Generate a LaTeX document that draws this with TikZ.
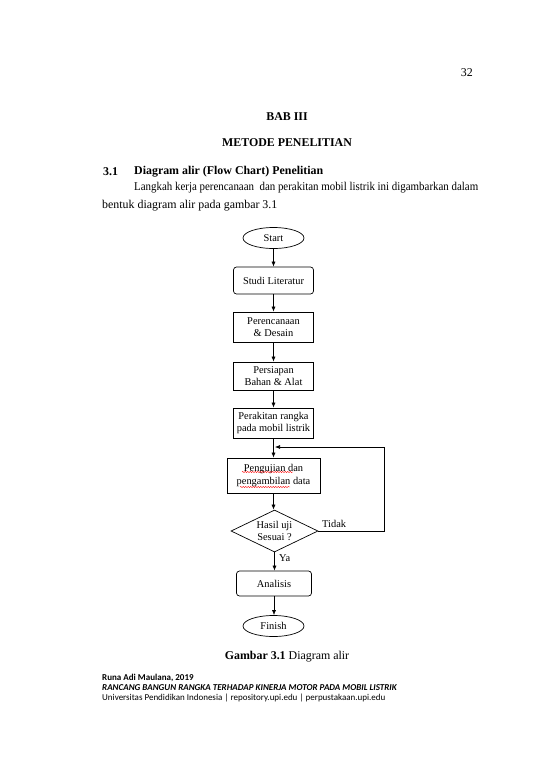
\documentclass[tikz,border=0pt]{standalone}
\usepackage{fontspec}
\usepackage{graphicx}
\setmainfont{Liberation Serif}
\newfontfamily\footfont{Carlito}
\usetikzlibrary{shapes.geometric,arrows.meta,decorations.pathmorphing}
\begin{document}
\begin{tikzpicture}[x=1pt,y=-1pt,
  box/.style={draw,line width=0.7pt,minimum width=80,inner sep=1pt,align=center,font=\fontsize{10.4}{12.6}\selectfont},
  rbox/.style={box,rounded corners=3pt},
  oval/.style={draw,line width=0.7pt,ellipse,minimum width=61,minimum height=21,inner sep=0pt,font=\fontsize{10.4}{12.6}\selectfont},
  arr/.style={-{Latex[length=5pt,width=4pt]},line width=0.6pt},
  body/.style={inner sep=0pt,font=\fontsize{11.9}{14}\selectfont},
  bbody/.style={inner sep=0pt,font=\bfseries\fontsize{11.9}{14}\selectfont},
  foot/.style={inner sep=0pt,anchor=west,font=\footfont\fontsize{9}{11}\selectfont},
  lbl/.style={inner sep=0pt,font=\fontsize{10.4}{12.6}\selectfont}]
\useasboundingbox (0,0) rectangle (550,777);
% page text
\node[body,anchor=east] (pg) at (473,73) {32};
\node[bbody] (bab) at (287,117) {BAB III};
\node[bbody] (met) at (287,143) {METODE PENELITIAN};
\node[bbody,anchor=west] (sec) at (103,172) {3.1};
\node[bbody,anchor=west] (sect) at (134,172) {Diagram alir (Flow Chart) Penelitian};
\node[body,anchor=west] (p1) at (134,188) {\resizebox{344pt}{\height}{Langkah kerja perencanaan \ dan perakitan mobil listrik ini digambarkan dalam}};
\node[body,anchor=west] (p2) at (102,206) {bentuk diagram alir pada gambar 3.1};
% flowchart
\node[oval] (start) at (273.5,238) {Start};
\node[rbox,minimum height=27] (studi) at (273.5,280.5) {Studi Literatur};
\node[box,minimum height=30] (peren) at (273.5,327) {Perencanaan\\ \& Desain};
\node[box,minimum height=28] (persi) at (273.5,376) {Persiapan\\ Bahan \& Alat};
\node[box,minimum height=30] (perak) at (273.5,423) {Perakitan rangka\\ pada mobil listrik};
\node[box,minimum width=93,minimum height=35] (uji) at (273.5,475.5) {Pengujian dan\\ pengambilan data};
\node[draw,line width=0.7pt,diamond,minimum width=87,minimum height=42,inner sep=0pt] (dec) at (274.5,531) {};
\node[lbl,align=center] (dect) at (274.5,531) {Hasil uji\\ Sesuai ?};
\node[rbox,minimum width=75,minimum height=25] (ana) at (274,583.5) {Analisis};
\node[oval] (fin) at (273.5,626) {Finish};
% spell-check squiggles
\draw[red,line width=0.35pt,decorate,decoration={snake,amplitude=0.6pt,segment length=2.5pt}] (242,472) -- (293,472);
\draw[red,line width=0.35pt,decorate,decoration={snake,amplitude=0.6pt,segment length=2.5pt}] (240,487) -- (290,487);
% connectors
\draw[arr] (start.south) -- (start.south |- studi.north);
\draw[arr] (studi.south) -- (studi.south |- peren.north);
\draw[arr] (peren.south) -- (peren.south |- persi.north);
\draw[arr] (persi.south) -- (persi.south |- perak.north);
\draw[arr] (perak.south) -- (perak.south |- uji.north);
\draw[arr] (uji.south) -- (uji.south |- dec.north);
\draw[arr] (dec.south) -- (dec.south |- ana.north);
\draw[arr] (ana.south) -- (ana.south |- fin.north);
\coordinate (fbin) at (275,447);
\coordinate (fbr) at (384,447);
\draw[arr] (dec.east) -| (fbr) -- (fbin);
\node[lbl,anchor=west] (tidak) at (322,524) {Tidak};
\node[lbl,anchor=west] (ya) at (279,558) {Ya};
% caption
\node[body] (cap) at (287,657) {\textbf{Gambar 3.1} Diagram alir};
% footer
\node[foot,font=\footfont\bfseries\fontsize{9}{11}\selectfont] (f1) at (102,678) {Runa Adi Maulana, 2019};
\node[foot,font=\footfont\bfseries\itshape\fontsize{9}{11}\selectfont] (f2) at (102,688) {RANCANG BANGUN RANGKA TERHADAP KINERJA MOTOR PADA MOBIL LISTRIK};
\node[foot] (f3) at (102,698) {Universitas Pendidikan Indonesia | repository.upi.edu | perpustakaan.upi.edu};
\end{tikzpicture}
\end{document}
